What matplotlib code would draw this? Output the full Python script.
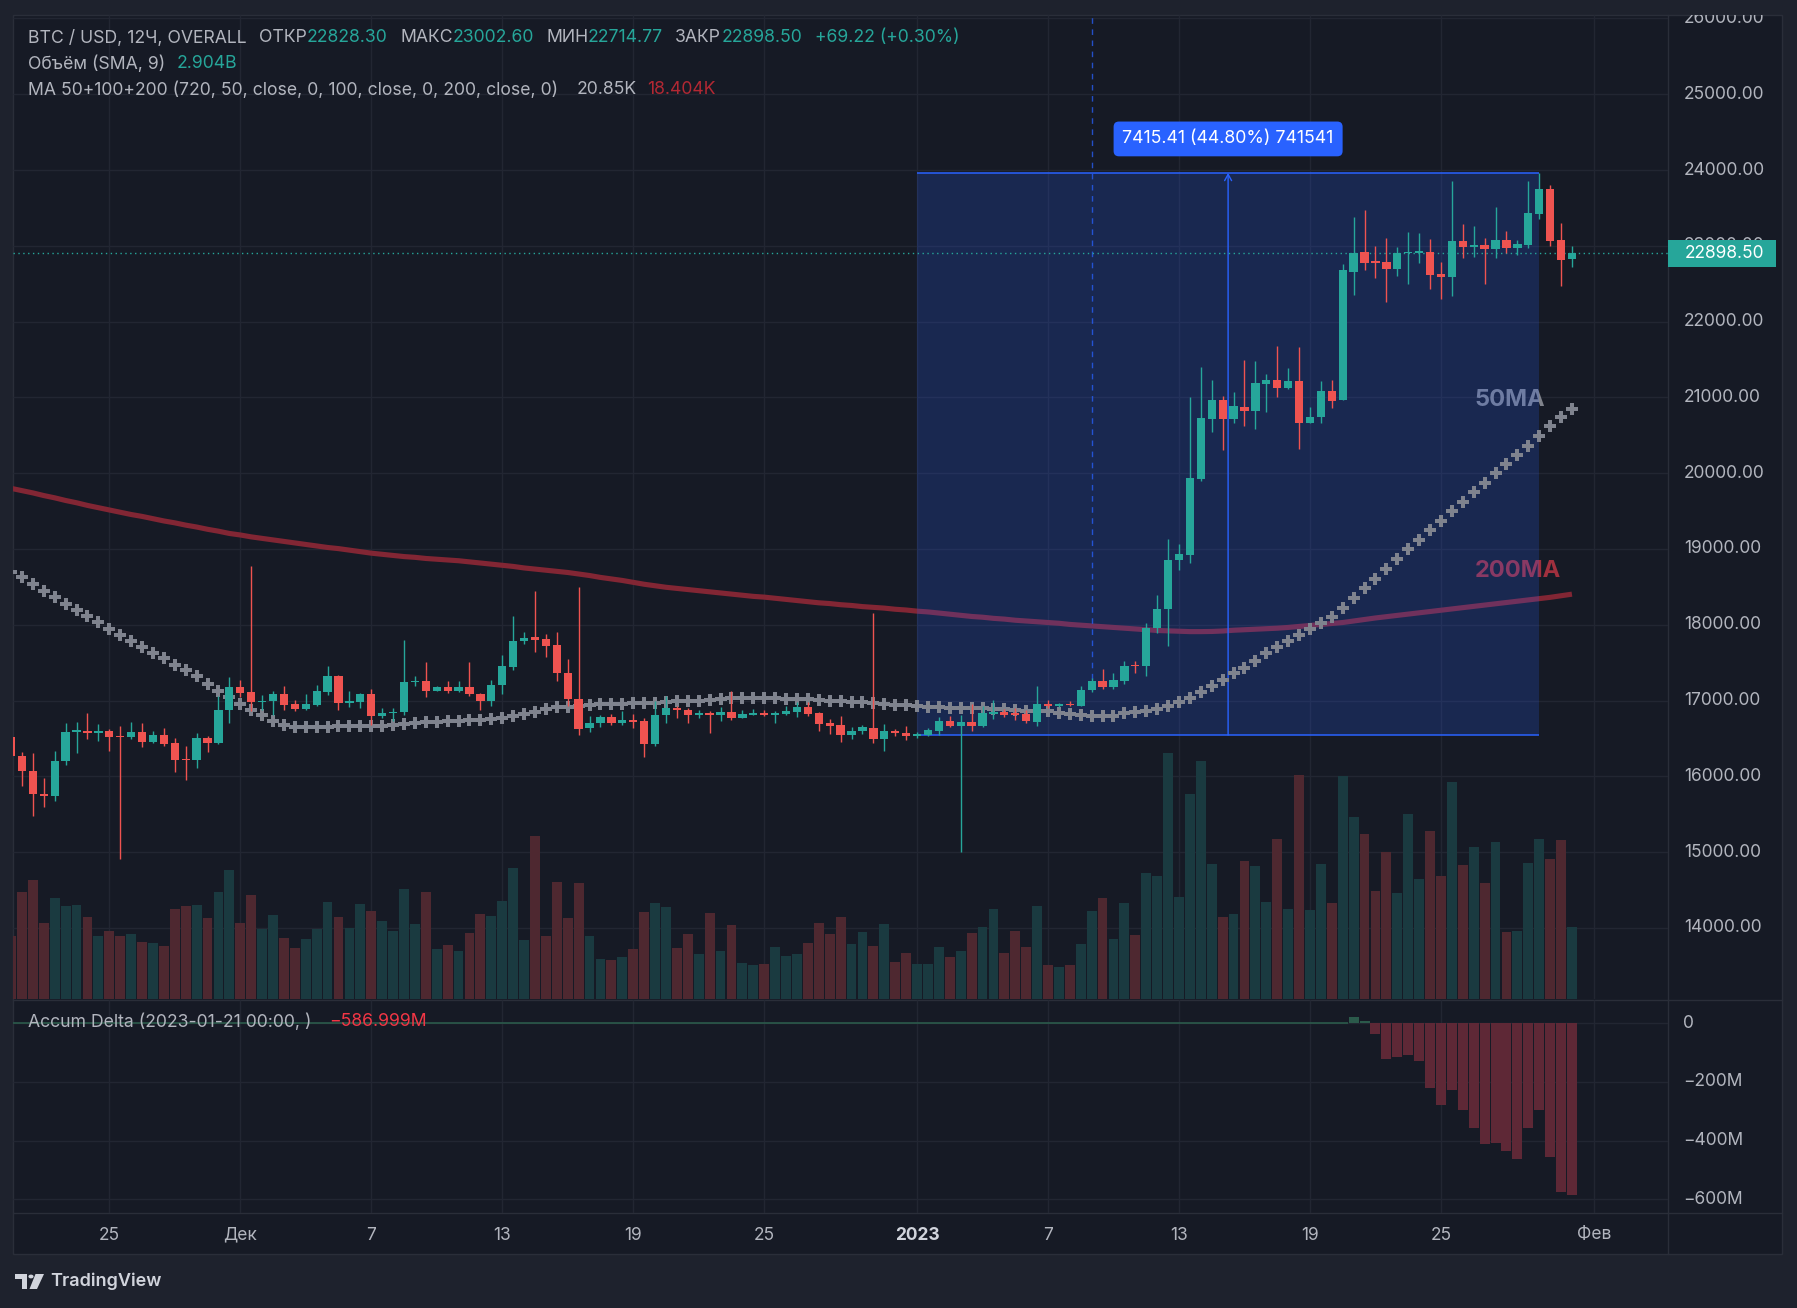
import numpy as np
import pandas as pd
import matplotlib
matplotlib.use("Agg")
import matplotlib.pyplot as plt
from matplotlib import transforms
from matplotlib.patches import Rectangle, Polygon, Circle
from matplotlib.lines import Line2D

plt.rcParams["font.family"] = ["Inter", "DejaVu Sans"]

# ---------------- data (BTC/USD, 12h bars) ----------------
first_bar = "2022-11-20 12:00"

opens = [16517, 16275, 16068, 15774, 15738, 16209, 16583, 16601, 16570, 16601,
         16535, 16517, 16579, 16451, 16552, 16434, 16224, 16214, 16500, 16438,
         16874, 17173, 17107, 16979, 16988, 17089, 16949, 16887, 16940, 17111,
         17318, 16966, 16979, 17089, 16794, 16838, 16847, 17239, 17252, 17124,
         17177, 17124, 17177, 17093, 16988, 17212, 17441, 17784, 17833, 17806,
         17727, 17370, 17026, 16634, 16709, 16789, 16709, 16749, 16736, 16432,
         16815, 16908, 16881, 16815, 16841, 16815, 16855, 16775, 16815, 16841,
         16815, 16828, 16855, 16921, 16841, 16709, 16683, 16542, 16595, 16643,
         16489, 16604, 16577, 16537, 16551, 16604, 16736, 16670, 16723, 16670,
         16828, 16855, 16841, 16828, 16723, 16960, 16922, 16957, 16935, 17137,
         17260, 17185, 17260, 17458, 17450, 17955, 18204, 18855, 18921, 19928,
         20719, 20965, 20719, 20873, 20824, 21180, 21229, 21127, 21215, 20666,
         20737, 21084, 20968, 22658, 22918, 22786, 22786, 22698, 22900, 22910,
         22918, 22627, 22592, 23063, 22988, 23006, 22962, 23076, 22975, 23014,
         23424, 23749, 23076, 22828.30]

highs = [16540, 16328, 16306, 15985, 16341, 16698, 16724, 16830, 16689, 16627,
         16671, 16711, 16698, 16601, 16632, 16500, 16407, 16566, 16539, 17067,
         17305, 17278, 18770, 17080, 17120, 17199, 17014, 17089, 17208, 17459,
         17331, 17120, 17098, 17155, 16904, 16896, 17793, 17318, 17503, 17186,
         17252, 17252, 17503, 17102, 17265, 17608, 18110, 17899, 18450, 17872,
         17899, 17555, 18500, 16802, 16815, 16824, 16868, 16824, 16775, 16991,
         17062, 16934, 16908, 16881, 16868, 16921, 17132, 16881, 16894, 16881,
         16868, 16934, 16978, 16978, 16855, 16762, 16802, 16648, 16683, 18150,
         16696, 16626, 16670, 16582, 16643, 16789, 16802, 16815, 16960, 16934,
         17013, 16894, 16908, 16881, 17194, 17009, 16965, 17000, 17194, 17295,
         17418, 17365, 17524, 17524, 18020, 18394, 19132, 19066, 21009, 21400,
         21229, 21018, 21070, 21492, 21479, 21308, 21677, 21387, 21664, 20873,
         21215, 21229, 22755, 23380, 23472, 22997, 23102, 22984, 23182, 23168,
         23089, 22786, 23855, 23287, 23261, 23102, 23512, 23195, 23076, 23855,
         23956, 23802, 23300, 23002.60]

lows = [16270, 15879, 15474, 15593, 15672, 16148, 16306, 16491, 16464, 16341,
        14910, 16495, 16385, 16442, 16398, 16055, 15950, 16108, 16319, 16429,
        16702, 17045, 16869, 16882, 16808, 16882, 16869, 16882, 16922, 17080,
        16874, 16913, 16900, 16684, 16768, 16733, 16812, 17195, 17045, 17120,
        17098, 17115, 17067, 16874, 16931, 17085, 17406, 17749, 17639, 17573,
        17264, 16934, 16542, 16582, 16648, 16674, 16674, 16634, 16251, 16397,
        16709, 16775, 16709, 16775, 16568, 16727, 16740, 16775, 16810, 16802,
        16709, 16815, 16789, 16802, 16595, 16555, 16449, 16489, 16555, 16436,
        16330, 16529, 16476, 16502, 16529, 16551, 16657, 15005, 16604, 16657,
        16762, 16789, 16749, 16709, 16670, 16900, 16918, 16922, 16930, 17119,
        17150, 17159, 17225, 17370, 17330, 17897, 17726, 18723, 18820, 19901,
        20543, 20306, 20666, 20622, 20587, 20811, 21009, 21110, 20323, 20660,
        20666, 20864, 20960, 22354, 22680, 22579, 22262, 22605, 22500, 22777,
        22434, 22302, 22341, 22843, 22856, 22500, 22843, 22909, 22882, 22975,
        23358, 23001, 22473, 22714.77]

closes = [16275, 16068, 15765, 15738, 16209, 16592, 16614, 16570, 16601, 16517,
          16517, 16579, 16451, 16552, 16425, 16214, 16212, 16500, 16438, 16882,
          17173, 17098, 16979, 16997, 17089, 16940, 16887, 16949, 17120, 17318,
          16966, 16988, 17089, 16794, 16838, 16856, 17239, 17252, 17124, 17177,
          17124, 17177, 17085, 16988, 17212, 17450, 17784, 17828, 17797, 17718,
          17361, 17018, 16621, 16709, 16789, 16709, 16749, 16723, 16432, 16815,
          16908, 16872, 16815, 16841, 16815, 16855, 16775, 16828, 16841, 16815,
          16841, 16868, 16921, 16828, 16696, 16670, 16542, 16604, 16648, 16489,
          16604, 16568, 16529, 16546, 16617, 16736, 16670, 16723, 16670, 16841,
          16855, 16815, 16815, 16736, 16960, 16922, 16957, 16939, 17141, 17260,
          17185, 17273, 17458, 17450, 17959, 18209, 18855, 18934, 19936, 20728,
          20965, 20719, 20886, 20824, 21189, 21229, 21127, 21215, 20666, 20741,
          21084, 20956, 22680, 22900, 22777, 22777, 22698, 22900, 22918, 22918,
          22618, 22592, 23063, 22988, 23006, 22962, 23076, 22970, 23023, 23432,
          23749, 23067, 22816, 22898.50]

volume_b = [2.54, 4.32, 4.80, 3.07, 4.07, 3.75, 3.79, 3.31, 2.54, 2.74,
            2.54, 2.62, 2.30, 2.26, 2.14, 3.63, 3.75, 3.79, 3.27, 4.32,
            5.20, 3.07, 4.19, 2.82, 3.39, 2.46, 2.06, 2.42, 2.82, 3.91,
            3.31, 2.86, 3.83, 3.55, 3.15, 2.74, 4.44, 3.02, 4.32, 2.02,
            2.18, 1.94, 2.66, 3.43, 3.35, 3.95, 5.28, 2.38, 6.57, 2.54,
            4.72, 3.27, 4.68, 2.54, 1.61, 1.57, 1.69, 2.02, 3.51, 3.87,
            3.71, 2.06, 2.62, 1.81, 3.47, 1.94, 2.98, 1.45, 1.37, 1.41,
            2.10, 1.73, 1.81, 2.26, 3.07, 2.62, 3.31, 2.22, 2.70, 2.14,
            3.02, 1.49, 1.86, 1.41, 1.41, 2.10, 1.69, 1.94, 2.66, 2.90,
            3.63, 1.86, 2.74, 2.10, 3.75, 1.37, 1.29, 1.37, 2.22, 3.55,
            4.07, 2.42, 3.87, 2.58, 5.08, 4.96, 9.92, 4.11, 8.27, 9.60,
            5.44, 3.31, 3.43, 5.57, 5.36, 3.91, 6.45, 3.63, 9.03, 3.59,
            5.44, 3.87, 8.99, 7.34, 6.65, 4.36, 5.93, 4.27, 7.46, 4.84,
            6.78, 4.96, 8.75, 5.40, 6.13, 4.68, 6.33, 2.70, 2.74, 5.48,
            6.45, 5.65, 6.41, 2.904]

ma50 = [18700, 18629, 18541, 18444, 18365, 18277, 18189, 18114, 18035, 17938,
        17859, 17784, 17705, 17626, 17560, 17476, 17406, 17322, 17217, 17133,
        17045, 16957, 16882, 16812, 16737, 16680, 16655, 16645, 16648, 16655,
        16660, 16660, 16660, 16662, 16666, 16680, 16693, 16706, 16715, 16724,
        16728, 16737, 16746, 16750, 16755, 16764, 16794, 16825, 16846, 16886,
        16912, 16921, 16934, 16947, 16956, 16956, 16956, 16965, 16965, 16974,
        16982, 16991, 17000, 17000, 17013, 17022, 17031, 17035, 17031, 17031,
        17031, 17026, 17022, 17018, 17009, 17000, 16996, 16987, 16978, 16969,
        16960, 16947, 16938, 16930, 16921, 16912, 16908, 16908, 16903, 16899,
        16894, 16890, 16881, 16868, 16859, 16860, 16842, 16825, 16812, 16798,
        16798, 16803, 16834, 16847, 16869, 16895, 16935, 16975, 17040, 17119,
        17198, 17273, 17361, 17436, 17528, 17625, 17704, 17792, 17871, 17950,
        18029, 18108, 18218, 18350, 18480, 18610, 18740, 18870, 19000, 19125,
        19250, 19375, 19500, 19625, 19750, 19875, 20000, 20120, 20240, 20360,
        20490, 20625, 20740, 20850]

ma200 = [19800, 19770, 19740, 19705, 19675, 19640, 19610, 19575, 19545, 19515,
         19485, 19455, 19430, 19400, 19370, 19345, 19315, 19290, 19260, 19235,
         19205, 19185, 19160, 19140, 19120, 19100, 19080, 19060, 19040, 19020,
         19005, 18985, 18965, 18945, 18930, 18915, 18900, 18890, 18875, 18865,
         18855, 18845, 18830, 18815, 18800, 18785, 18770, 18750, 18735, 18720,
         18705, 18690, 18670, 18650, 18625, 18605, 18585, 18560, 18535, 18515,
         18495, 18480, 18465, 18450, 18435, 18420, 18405, 18390, 18375, 18365,
         18350, 18335, 18320, 18305, 18290, 18280, 18265, 18255, 18240, 18230,
         18220, 18205, 18195, 18180, 18170, 18155, 18140, 18125, 18110, 18100,
         18085, 18075, 18060, 18050, 18040, 18030, 18020, 18005, 17995, 17985,
         17975, 17965, 17955, 17945, 17935, 17925, 17920, 17915, 17910, 17910,
         17912, 17918, 17928, 17935, 17942, 17948, 17955, 17965, 17978, 17990,
         18003, 18016, 18030, 18050, 18070, 18090, 18107, 18124, 18141, 18158,
         18175, 18192, 18209, 18226, 18243, 18260, 18277, 18294, 18311, 18328,
         18345, 18362, 18383, 18404]

delta_anchor = "2023-01-21 00:00"
accum_delta_m = [20, 8, -35, -121, -114, -107, -128, -219, -280, -229,
                 -297, -358, -412, -409, -436, -463, -358, -294, -457, -575,
                 -587]

measure_from = "2023-01-01 00:00"
measure_to = "2023-01-29 12:00"
measure_low = 16546.0
measure_high = 23961.41
measure_text = "7415.41 (44.80%) 741541"
crosshair_time = "2023-01-09 00:00"

time_ticks = ["2022-11-25", "2022-12-01", "2022-12-07", "2022-12-13", "2022-12-19",
              "2022-12-25", "2023-01-01", "2023-01-07", "2023-01-13", "2023-01-19",
              "2023-01-25", "2023-02-01"]
time_labels = ["25", "Дек", "7", "13", "19", "25", "2023", "7", "13", "19", "25", "Фев"]
price_ticks = [14000, 15000, 16000, 17000, 18000, 19000, 20000, 21000, 22000,
               23000, 24000, 25000, 26000]
delta_ticks = [0, -200, -400, -600]
delta_tick_labels = ["0", "\u2212200M", "\u2212400M", "\u2212600M"]

# ---------------- derived ----------------
o = np.array(opens, float); h = np.array(highs, float)
l = np.array(lows, float); c = np.array(closes, float)
vol = np.array(volume_b, float)
bars = pd.date_range(first_bar, periods=len(opens), freq="12h")
step = pd.Timedelta(hours=12)


def bar_pos(t):
    return (pd.Timestamp(t) - bars[0]) / step


x = np.arange(len(opens), dtype=float)
tick_x = np.array([bar_pos(t) for t in time_ticks])
up = c >= o

UP, DN = "#26a69a", "#ef5350"
BG, OUTER, LINE = "#161a25", "#1e222d", "#2a2e39"
GRID = "#222632"
TXT = "#b2b5be"

# ---------------- figure / layout (pixels) ----------------
W, H = 1797, 1308
fig = plt.figure(figsize=(W / 100, H / 100), dpi=100, facecolor=OUTER)


def fx(px):
    return px / W


def fy(py):
    return 1 - py / H


L, R, FR = 13, 1668, 1782
MT, MB, DT, DB, AB = 15, 999, 1000, 1213, 1254

frame = Rectangle((fx(L), fy(AB)), (FR - L) / W, (AB - MT) / H, transform=fig.transFigure,
                  facecolor=BG, edgecolor=LINE, lw=1, zorder=-10)
fig.add_artist(frame)
for yy in (MB + 0.5, DB):
    fig.add_artist(Line2D([fx(L), fx(FR)], [fy(yy), fy(yy)], transform=fig.transFigure,
                          color=LINE, lw=1, zorder=-5))
fig.add_artist(Line2D([fx(R), fx(R)], [fy(MT), fy(AB)], transform=fig.transFigure,
                      color=LINE, lw=1, zorder=-5))

ax = fig.add_axes([fx(L), fy(MB), (R - L) / W, (MB - MT) / H])
axd = fig.add_axes([fx(L), fy(DB), (R - L) / W, (DB - DT) / H])
for a in (ax, axd):
    a.set_facecolor("none")
    for s in a.spines.values():
        s.set_visible(False)
    a.set_xticks([])
    a.set_yticks([])

XMIN, XMAX = 0.18, 151.8
YMIN, YMAX = 13063.0, 26045.0
DMIN, DMAX = -646.7, 79.4
VOL_TOP = 39.68

# ---------------- main pane ----------------
ax.hlines(price_ticks, XMIN, XMAX, colors=GRID, lw=1, zorder=0.5)
ax.vlines(tick_x, YMIN, YMAX, colors=GRID, lw=1, zorder=0.5)

vtrans = transforms.blended_transform_factory(ax.transData, ax.transAxes)
vcol = np.where(up, "#1a3a40", "#4e2830")
ax.bar(x, vol / VOL_TOP, width=0.9, bottom=0, color=vcol, lw=0, transform=vtrans, zorder=1)

ax.plot(x, ma200, color="#822634", lw=3.7, zorder=2, solid_capstyle="butt")

ax.text(140.5, 20960, "50MA", ha="right", va="center", fontsize=17, fontweight="bold",
        color="#80838c", zorder=2.6)
ax.text(142.0, 18715, "200MA", ha="right", va="center", fontsize=17, fontweight="bold",
        color="#a1303e", zorder=2.6)

xc = bar_pos(crosshair_time)
ax.vlines(xc, 17140, YMAX, colors="#2962ff", linestyles=(0, (4, 4)), lw=1, alpha=0.75,
          zorder=3.3)

x0, x1 = bar_pos(measure_from), bar_pos(measure_to)
ax.add_patch(Rectangle((x0, measure_low), x1 - x0, measure_high - measure_low,
                       facecolor="#2962ff", alpha=0.2, lw=0, zorder=3))
ax.hlines([measure_low, measure_high], x0, x1, colors="#2962ff", lw=1.1, zorder=3.1)
xm = (x0 + x1) / 2
ax.annotate("", xy=(xm, measure_high), xytext=(xm, measure_low),
            arrowprops=dict(arrowstyle="->,head_length=0.45,head_width=0.25",
                            color="#2962ff", lw=1.0, shrinkA=0, shrinkB=0), zorder=3.2)

ax.plot(x, ma50, linestyle="none", marker="P", ms=8.0, mew=0, color="#7f838e", zorder=4)

ax.hlines(c[-1], XMIN, XMAX, colors=UP, linestyles=(0, (1, 2.5)), lw=1, zorder=4.5)

ccol = np.where(up, UP, DN)
ax.vlines(x, l, h, colors=ccol, lw=1.0, zorder=5)
body_lo = np.minimum(o, c)
body_h = np.maximum(np.abs(c - o), 16)
ax.bar(x, body_h, bottom=body_lo, width=0.76, color=ccol, lw=0, zorder=5.1)

ax.text(xm, 24410, measure_text, ha="center", va="center", color="white", fontsize=12.8,
        zorder=7, bbox=dict(boxstyle="round,pad=0.5,rounding_size=0.3", fc="#2962ff", ec="none"))

ax.set_xlim(XMIN, XMAX)
ax.set_ylim(YMIN, YMAX)

# ---------------- delta pane ----------------
axd.hlines(delta_ticks, XMIN, XMAX, colors=GRID, lw=1, zorder=0.5)
axd.vlines(tick_x, DMIN, DMAX, colors=GRID, lw=1, zorder=0.5)
d = np.array(accum_delta_m, float)
dx = bar_pos(delta_anchor) + np.arange(len(d))
dcol = np.where(d >= 0, "#2b5a4b", "#5e2836")
axd.hlines(0, XMIN, dx[0] - 0.5, colors="#2b5a4b", lw=1.2, zorder=1)
axd.bar(dx, d, width=0.92, bottom=0, color=dcol, lw=0, zorder=1)
axd.set_xlim(XMIN, XMAX)
axd.set_ylim(DMIN, DMAX)

# ---------------- axis labels ----------------
ptrans = transforms.blended_transform_factory(fig.transFigure, ax.transData)
for p in price_ticks:
    t = fig.text(fx(1684), p, f"{p:.2f}", transform=ptrans, ha="left", va="center",
                 color=TXT, fontsize=12.5, zorder=2)
    t.set_clip_path(frame)

tag_h = 27 / 75.8 * 1000
fig.add_artist(Rectangle((fx(R), c[-1] - tag_h / 2), (1776 - R) / W, tag_h, transform=ptrans,
                         facecolor=UP, edgecolor="none", zorder=5))
fig.text(fx(1685), c[-1], f"{c[-1]:.2f}", transform=ptrans, ha="left", va="center",
         color="white", fontsize=12.5, zorder=6)

dtrans = transforms.blended_transform_factory(fig.transFigure, axd.transData)
for v, s in zip(delta_ticks, delta_tick_labels):
    fig.text(fx(1683), v, s, transform=dtrans, ha="left", va="center", color=TXT, fontsize=12.5)

ttrans = transforms.blended_transform_factory(axd.transData, fig.transFigure)
for tx, s in zip(tick_x, time_labels):
    bold = s == "2023"
    fig.text(tx, fy(1235), s, transform=ttrans, ha="center", va="center",
             color="#d1d4dc" if bold else TXT, fontsize=12.5,
             fontweight="bold" if bold else "normal")

# ---------------- legends ----------------
y1, y2, y3 = fy(38), fy(64), fy(90)
FS = 12.7
legend1 = [(27.5, "BTC / USD, 12Ч, OVERALL", TXT), (259, "ОТКР", TXT), (307, "22828.30", UP),
           (400, "МАКС", TXT), (453, "23002.60", UP), (546, "МИН", TXT), (588, "22714.77", UP),
           (675, "ЗАКР", TXT), (722, "22898.50", UP), (815, "+69.22 (+0.30%)", UP)]
for px_, s, col in legend1:
    fig.text(fx(px_), y1, s, ha="left", va="center", color=col, fontsize=FS)
fig.text(fx(27.5), y2, "Объём (SMA, 9)", ha="left", va="center", color=TXT, fontsize=FS)
fig.text(fx(177), y2, "2.904B", ha="left", va="center", color=UP, fontsize=FS)
fig.text(fx(27.5), y3, "MA 50+100+200 (720, 50, close, 0, 100, close, 0, 200, close, 0)",
         ha="left", va="center", color=TXT, fontsize=FS)
fig.text(fx(577), y3, "20.85K", ha="left", va="center", color=TXT, fontsize=FS)
fig.text(fx(647), y3, "18.404K", ha="left", va="center", color="#b22833", fontsize=FS)

fig.text(fx(27.5), fy(1022), "Accum Delta (2023-01-21 00:00, )", ha="left", va="center",
         color=TXT, fontsize=FS)
fig.text(fx(329), fy(1022), "\u2212586.999M", ha="left", va="center", color="#f23645", fontsize=FS)

# ---------------- TradingView logo ----------------
LOGO = "#d1d4dc"
fig.add_artist(Polygon([(fx(15), fy(1274)), (fx(27), fy(1274)), (fx(27), fy(1289)),
                        (fx(21.5), fy(1289)), (fx(21.5), fy(1279)), (fx(15), fy(1279))],
                       closed=True, transform=fig.transFigure, facecolor=LOGO, edgecolor="none"))
fig.add_artist(Circle((fx(31), fy(1276.5)), 2.6 / W, transform=fig.transFigure,
                      facecolor=LOGO, edgecolor="none"))
fig.add_artist(Polygon([(fx(35.5), fy(1274)), (fx(44), fy(1274)), (fx(37), fy(1289)),
                        (fx(29.5), fy(1289))], closed=True, transform=fig.transFigure,
                       facecolor=LOGO, edgecolor="none"))
fig.text(fx(50), fy(1281), "TradingView", ha="left", va="center", color=LOGO,
         fontsize=13, fontweight="semibold")

fig.savefig("out.png", dpi=100, facecolor=fig.get_facecolor())
